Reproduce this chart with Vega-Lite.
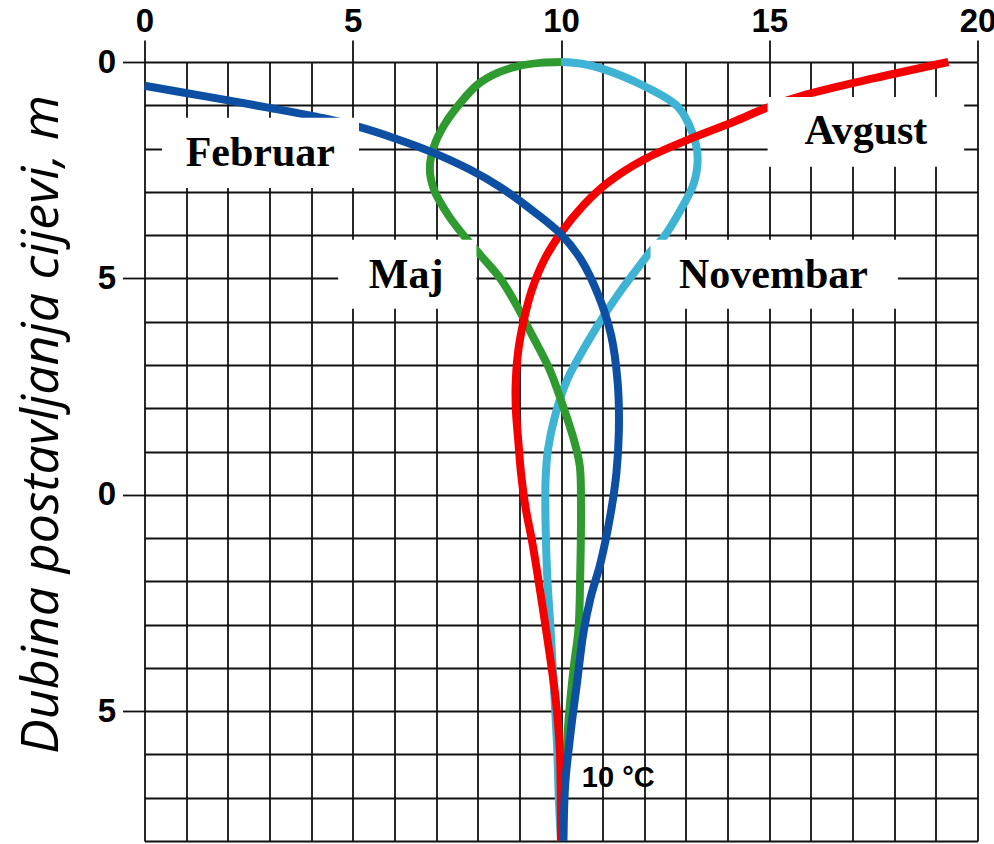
{
  "$schema": "https://vega.github.io/schema/vega-lite/v6.json",
  "width": 833,
  "height": 779,
  "autosize": "none",
  "padding": {"left": 144.5, "top": 62, "right": 16.5, "bottom": 3},
  "background": "white",
  "config": {"view": {"stroke": null}},
  "datasets": {
    "curves": [
      {"s": "Novembar", "i": 0, "t": 10.0, "d": 0.0},
      {"s": "Novembar", "i": 1, "t": 10.5, "d": 0.04},
      {"s": "Novembar", "i": 2, "t": 11.0, "d": 0.16},
      {"s": "Novembar", "i": 3, "t": 11.98, "d": 0.55},
      {"s": "Novembar", "i": 4, "t": 12.8, "d": 1.03},
      {"s": "Novembar", "i": 5, "t": 13.16, "d": 1.65},
      {"s": "Novembar", "i": 6, "t": 13.28, "d": 2.19},
      {"s": "Novembar", "i": 7, "t": 13.19, "d": 2.8},
      {"s": "Novembar", "i": 8, "t": 12.87, "d": 3.42},
      {"s": "Novembar", "i": 9, "t": 12.47, "d": 4.04},
      {"s": "Novembar", "i": 10, "t": 12.15, "d": 4.38},
      {"s": "Novembar", "i": 11, "t": 11.75, "d": 4.88},
      {"s": "Novembar", "i": 12, "t": 11.35, "d": 5.4},
      {"s": "Novembar", "i": 13, "t": 10.95, "d": 5.98},
      {"s": "Novembar", "i": 14, "t": 10.55, "d": 6.62},
      {"s": "Novembar", "i": 15, "t": 10.15, "d": 7.34},
      {"s": "Novembar", "i": 16, "t": 9.87, "d": 8.13},
      {"s": "Novembar", "i": 17, "t": 9.69, "d": 8.94},
      {"s": "Novembar", "i": 18, "t": 9.63, "d": 9.65},
      {"s": "Novembar", "i": 19, "t": 9.63, "d": 10.69},
      {"s": "Novembar", "i": 20, "t": 9.67, "d": 11.9},
      {"s": "Novembar", "i": 21, "t": 9.75, "d": 13.1},
      {"s": "Novembar", "i": 22, "t": 9.82, "d": 14.3},
      {"s": "Novembar", "i": 23, "t": 9.91, "d": 15.9},
      {"s": "Novembar", "i": 24, "t": 9.95, "d": 17.1},
      {"s": "Novembar", "i": 25, "t": 10.0, "d": 18.0},
      {"s": "Maj", "i": 0, "t": 10.0, "d": 0.0},
      {"s": "Maj", "i": 1, "t": 9.5, "d": 0.02},
      {"s": "Maj", "i": 2, "t": 9.0, "d": 0.09},
      {"s": "Maj", "i": 3, "t": 8.5, "d": 0.24},
      {"s": "Maj", "i": 4, "t": 8.0, "d": 0.52},
      {"s": "Maj", "i": 5, "t": 7.58, "d": 0.95},
      {"s": "Maj", "i": 6, "t": 7.2, "d": 1.45},
      {"s": "Maj", "i": 7, "t": 6.95, "d": 1.95},
      {"s": "Maj", "i": 8, "t": 6.85, "d": 2.45},
      {"s": "Maj", "i": 9, "t": 6.95, "d": 2.95},
      {"s": "Maj", "i": 10, "t": 7.3, "d": 3.55},
      {"s": "Maj", "i": 11, "t": 7.75, "d": 4.11},
      {"s": "Maj", "i": 12, "t": 8.1, "d": 4.5},
      {"s": "Maj", "i": 13, "t": 8.54, "d": 5.0},
      {"s": "Maj", "i": 14, "t": 8.95, "d": 5.65},
      {"s": "Maj", "i": 15, "t": 9.3, "d": 6.3},
      {"s": "Maj", "i": 16, "t": 9.72, "d": 7.09},
      {"s": "Maj", "i": 17, "t": 10.03, "d": 7.9},
      {"s": "Maj", "i": 18, "t": 10.3, "d": 8.7},
      {"s": "Maj", "i": 19, "t": 10.45, "d": 9.33},
      {"s": "Maj", "i": 20, "t": 10.48, "d": 10.3},
      {"s": "Maj", "i": 21, "t": 10.46, "d": 11.9},
      {"s": "Maj", "i": 22, "t": 10.42, "d": 13.1},
      {"s": "Maj", "i": 23, "t": 10.31, "d": 13.95},
      {"s": "Maj", "i": 24, "t": 10.19, "d": 15.1},
      {"s": "Maj", "i": 25, "t": 10.11, "d": 16.3},
      {"s": "Maj", "i": 26, "t": 10.03, "d": 17.5},
      {"s": "Maj", "i": 27, "t": 10.0, "d": 18.0},
      {"s": "Avgust", "i": 0, "t": 19.3, "d": 0.0},
      {"s": "Avgust", "i": 1, "t": 17.5, "d": 0.38},
      {"s": "Avgust", "i": 2, "t": 15.9, "d": 0.75},
      {"s": "Avgust", "i": 3, "t": 14.96, "d": 1.05},
      {"s": "Avgust", "i": 4, "t": 14.15, "d": 1.38},
      {"s": "Avgust", "i": 5, "t": 13.04, "d": 1.8},
      {"s": "Avgust", "i": 6, "t": 11.98, "d": 2.26},
      {"s": "Avgust", "i": 7, "t": 11.11, "d": 2.8},
      {"s": "Avgust", "i": 8, "t": 10.55, "d": 3.3},
      {"s": "Avgust", "i": 9, "t": 10.0, "d": 3.95},
      {"s": "Avgust", "i": 10, "t": 9.6, "d": 4.57},
      {"s": "Avgust", "i": 11, "t": 9.3, "d": 5.27},
      {"s": "Avgust", "i": 12, "t": 9.1, "d": 6.0},
      {"s": "Avgust", "i": 13, "t": 8.97, "d": 6.7},
      {"s": "Avgust", "i": 14, "t": 8.91, "d": 7.5},
      {"s": "Avgust", "i": 15, "t": 8.92, "d": 8.1},
      {"s": "Avgust", "i": 16, "t": 8.97, "d": 8.7},
      {"s": "Avgust", "i": 17, "t": 9.04, "d": 9.5},
      {"s": "Avgust", "i": 18, "t": 9.15, "d": 10.3},
      {"s": "Avgust", "i": 19, "t": 9.31, "d": 11.1},
      {"s": "Avgust", "i": 20, "t": 9.51, "d": 12.29},
      {"s": "Avgust", "i": 21, "t": 9.7, "d": 13.5},
      {"s": "Avgust", "i": 22, "t": 9.87, "d": 14.7},
      {"s": "Avgust", "i": 23, "t": 9.97, "d": 15.9},
      {"s": "Avgust", "i": 24, "t": 10.0, "d": 18.0},
      {"s": "Februar", "i": 0, "t": 0.0, "d": 0.55},
      {"s": "Februar", "i": 1, "t": 1.5, "d": 0.8},
      {"s": "Februar", "i": 2, "t": 3.0, "d": 1.06},
      {"s": "Februar", "i": 3, "t": 4.3, "d": 1.3},
      {"s": "Februar", "i": 4, "t": 5.15, "d": 1.5},
      {"s": "Februar", "i": 5, "t": 6.0, "d": 1.76},
      {"s": "Februar", "i": 6, "t": 6.87, "d": 2.07},
      {"s": "Februar", "i": 7, "t": 7.82, "d": 2.49},
      {"s": "Februar", "i": 8, "t": 8.54, "d": 2.89},
      {"s": "Februar", "i": 9, "t": 9.34, "d": 3.45},
      {"s": "Februar", "i": 10, "t": 10.0, "d": 3.98},
      {"s": "Februar", "i": 11, "t": 10.47, "d": 4.55},
      {"s": "Februar", "i": 12, "t": 10.88, "d": 5.35},
      {"s": "Februar", "i": 13, "t": 11.2, "d": 6.3},
      {"s": "Februar", "i": 14, "t": 11.36, "d": 7.4},
      {"s": "Februar", "i": 15, "t": 11.39, "d": 8.5},
      {"s": "Februar", "i": 16, "t": 11.33, "d": 9.5},
      {"s": "Februar", "i": 17, "t": 11.18, "d": 10.5},
      {"s": "Februar", "i": 18, "t": 10.95, "d": 11.57},
      {"s": "Februar", "i": 19, "t": 10.71, "d": 12.38},
      {"s": "Februar", "i": 20, "t": 10.54, "d": 13.18},
      {"s": "Februar", "i": 21, "t": 10.39, "d": 14.3},
      {"s": "Februar", "i": 22, "t": 10.23, "d": 15.5},
      {"s": "Februar", "i": 23, "t": 10.1, "d": 16.7},
      {"s": "Februar", "i": 24, "t": 10.06, "d": 18.0}
    ],
    "boxes": [
      {"label": "Februar", "x1": 0.42, "x2": 5.15, "y1": 1.29, "y2": 2.91, "tx": 2.78, "ty": 2.1},
      {"label": "Avgust", "x1": 14.96, "x2": 19.68, "y1": 0.81, "y2": 2.42, "tx": 17.32, "ty": 1.6},
      {"label": "Maj", "x1": 4.65, "x2": 7.97, "y1": 4.11, "y2": 5.7, "tx": 6.28, "ty": 4.92},
      {"label": "Novembar", "x1": 12.15, "x2": 18.09, "y1": 4.11, "y2": 5.7, "tx": 15.1, "ty": 4.92}
    ]
  },
  "layer": [
    {
      "data": {"name": "curves"},
      "mark": {"type": "line", "strokeWidth": 8, "interpolate": "catmull-rom", "strokeCap": "butt"},
      "encoding": {
        "x": {
          "field": "t", "type": "quantitative",
          "scale": {"domain": [0, 20], "nice": false, "zero": false},
          "axis": {
            "orient": "top", "title": null,
            "values": [0,1,2,3,4,5,6,7,8,9,10,11,12,13,14,15,16,17,18,19,20],
            "grid": true, "gridColor": "#111111", "gridWidth": 1.8, "gridOpacity": 1,
            "domain": false,
            "tickSize": 22, "tickColor": "#111111", "tickWidth": 1.8,
            "tickOpacity": {"condition": {"test": "datum.value % 5 === 0", "value": 1}, "value": 0},
            "labelExpr": "datum.value % 5 === 0 ? datum.label : ''",
            "labelFont": "Liberation Sans", "labelFontWeight": "bold", "labelFontSize": 33,
            "labelColor": "black", "labelPadding": 2, "labelFlush": false, "labelOverlap": false, "labelBound": false
          }
        },
        "y": {
          "field": "d", "type": "quantitative",
          "scale": {"domain": [0, 18], "nice": false, "zero": false, "reverse": true},
          "axis": {
            "orient": "left",
            "title": "Dubina postavljanja cijevi, m",
            "titleFont": "Open Sans", "titleFontStyle": "italic", "titleFontWeight": "normal",
            "titleFontSize": 52, "titleColor": "black",
            "titleAngle": 270, "titleAlign": "center", "titleBaseline": "alphabetic",
            "titleX": -87, "titleY": 362,
            "values": [0,1,2,3,4,5,6,7,8,9,10,11,12,13,14,15,16,17,18],
            "grid": true, "gridColor": "#111111", "gridWidth": 1.8, "gridOpacity": 1,
            "domain": false,
            "tickSize": 22, "tickColor": "#111111", "tickWidth": 1.8,
            "tickOpacity": {"condition": {"test": "datum.value % 5 === 0", "value": 1}, "value": 0},
            "labelExpr": "datum.value % 5 === 0 ? '' + (datum.value % 10) : ''",
            "labelFont": "Liberation Sans", "labelFontWeight": "bold", "labelFontSize": 33,
            "labelColor": "black", "labelPadding": 7, "labelFlush": false, "labelOverlap": false, "labelBound": false
          }
        },
        "color": {
          "field": "s", "type": "nominal",
          "scale": {"domain": ["Novembar", "Maj", "Avgust", "Februar"], "range": ["#3fb3d3", "#2f9a2f", "#f40000", "#0d4fa3"]},
          "legend": null
        },
        "order": {"field": "i", "type": "quantitative"}
      }
    },
    {
      "data": {"name": "boxes"},
      "mark": {"type": "rect", "fill": "white", "stroke": null},
      "encoding": {
        "x": {"field": "x1", "type": "quantitative"},
        "x2": {"field": "x2"},
        "y": {"field": "y1", "type": "quantitative"},
        "y2": {"field": "y2"}
      }
    },
    {
      "data": {"name": "boxes"},
      "mark": {"type": "text", "font": "Liberation Serif", "fontWeight": "bold", "fontSize": 42, "baseline": "middle", "align": "center", "color": "black"},
      "encoding": {
        "x": {"field": "tx", "type": "quantitative"},
        "y": {"field": "ty", "type": "quantitative"},
        "text": {"field": "label"}
      }
    },
    {
      "data": {"values": [{"t": 10.5, "d": 16.55, "label": "10 °C"}]},
      "mark": {"type": "text", "font": "Liberation Sans", "fontWeight": "bold", "fontSize": 29, "baseline": "middle", "align": "left", "color": "black"},
      "encoding": {
        "x": {"field": "t", "type": "quantitative"},
        "y": {"field": "d", "type": "quantitative"},
        "text": {"field": "label"}
      }
    }
  ]
}
